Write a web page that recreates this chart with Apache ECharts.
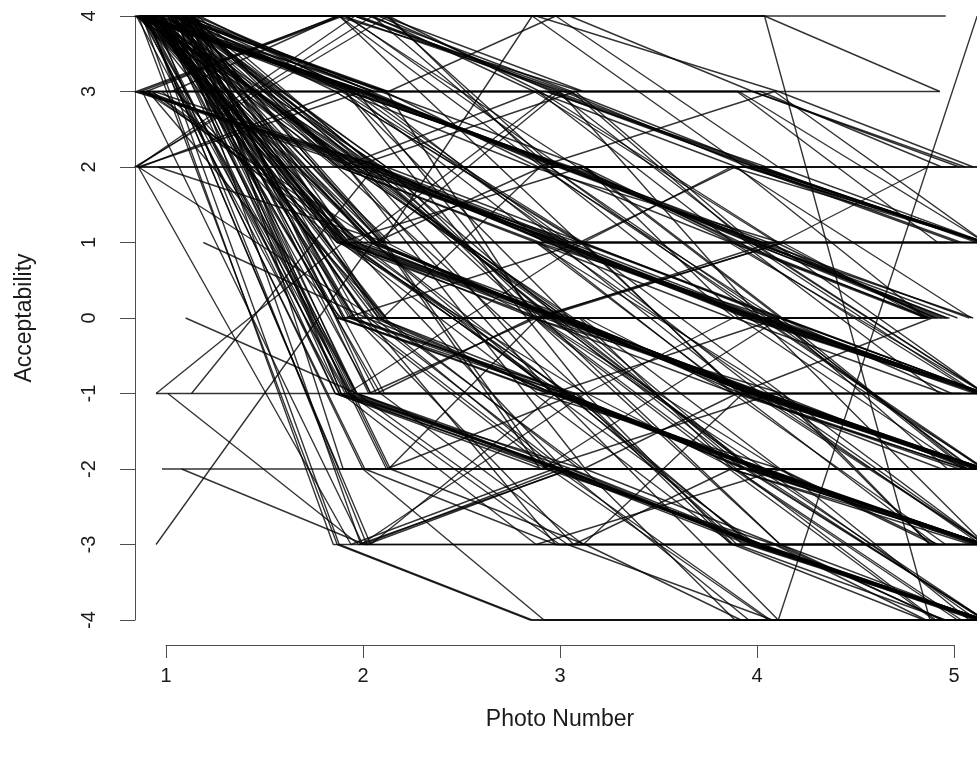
<!DOCTYPE html>
<html>
<head>
<meta charset="utf-8">
<script src="https://cdn.jsdelivr.net/npm/echarts@6/dist/echarts.min.js"></script>
<style>
  html, body { margin: 0; padding: 0; background: #fff; }
  #chart { width: 977px; height: 759px; }
</style>
</head>
<body>
<div id="chart"></div>
<script>
// photo positions and rating ticks
const photoTicks = [1, 2, 3, 4, 5];
const scoreTicks = [-4, -3, -2, -1, 0, 1, 2, 3, 4];

// one row per participant: acceptability for photos 1..5
const scores = [
  [4,4,4,4,4],[3,3,3,3,3],[2,2,2,2,2],[-1,-1,-1,-1,-1],[-2,-2,-2,-2,-2],
  [4,1,1,1,1],[4,0,0,0,0],[4,-3,-3,-3,-3],[4,-3,-4,-4,-4],[4,-3,-4,-4,-4],
  [4,3,2,1,1],[4,3,2,2,1],[4,3,2,1,1],[4,3,2,2,1],[4,3,2,1,0],
  [4,3,2,2,2],[4,3,3,2,1],[4,4,3,2,1],[3,3,2,2,1],[4,2,2,2,1],
  [4,2,1,0,-1],[4,2,0,0,-1],[4,1,0,0,-1],[4,2,1,0,-1],[4,3,1,0,-1],
  [4,1,1,0,-1],[4,2,0,-1,-1],[3,2,1,0,-1],[4,2,1,1,-1],[4,1,0,-1,-1],
  [4,3,2,0,-1],[4,2,1,0,-1],[4,2,0,-1,-2],[4,1,0,-1,-2],[4,2,1,-1,-2],
  [4,1,-1,-1,-2],[4,0,-1,-1,-2],[4,2,0,-1,-2],[4,3,1,-1,-2],[4,1,0,-2,-2],
  [3,1,0,-1,-2],[4,2,0,0,-2],[4,0,0,-1,-2],[4,1,0,-1,-2],[4,2,1,0,-2],
  [4,3,0,-1,-2],[4,1,-1,-2,-3],[4,0,-1,-2,-3],[4,2,0,-2,-3],[4,1,-1,-2,-3],
  [4,-1,-2,-2,-3],[4,1,0,-2,-3],[4,0,-2,-2,-3],[4,2,-1,-2,-3],[3,1,-1,-2,-3],
  [4,-1,-1,-2,-3],[4,1,-1,-3,-3],[4,0,-1,-2,-3],[4,2,0,-1,-3],[4,-1,-2,-3,-3],
  [2,0,-1,-2,-3],[4,-1,-2,-3,-4],[4,-1,-2,-3,-4],[4,-1,-2,-3,-4],[4,-1,-2,-3,-4],
  [4,-1,-2,-3,-4],[4,0,-2,-3,-4],[4,1,-1,-3,-4],[4,-1,-2,-4,-4],[4,-2,-3,-3,-4],
  [4,0,-1,-3,-4],[4,-1,-3,-3,-4],[4,-2,-2,-3,-4],[4,0,-2,-3,-4],[4,-2,-4,-4,-4],
  [4,-1,-3,-4,-4],[4,1,-2,-4,-4],[4,0,-2,-4,-4],[2,4,3,2,1],[2,3,2,1,0],
  [2,4,2,0,-1],[2,-3,-2,-2,-3],[3,4,3,2,1],[3,2,1,0,-1],[3,3,2,1,0],
  [3,4,4,3,2],[3,1,0,-1,-2],[3,2,0,-1,-2],[3,0,-1,-2,-3],[3,2,1,1,0],
  [4,4,3,2,1],[4,4,2,1,0],[4,4,3,1,1],[4,4,2,2,1],[4,4,3,3,2],
  [4,1,4,2,1],[4,1,3,1,-1],[4,1,3,0,-2],[4,4,4,4,3],[4,4,4,4,-4],
  [4,1,-1,-4,4],[4,3,3,3,2],[4,2,1,1,0],[3,2,1,1,0],[-1,1,0,-1,-2],
  [-1,-3,-2,-3,-3],[-1,2,1,0,-1],[-2,-3,-3,-3,-3],[-3,1,0,-1,-2],[0,-1,-1,-2,-2],
  [1,0,-1,-2,-3],[4,-3,-2,-3,-4],[4,-3,-1,-2,-3],[3,-3,-2,-2,-2],[4,3,3,2,2],
  [4,2,2,1,0],[4,3,2,1,-1],[4,2,1,-1,-3],[4,0,-1,-2,-4],[4,1,0,-2,-4],
  [4,-1,-1,-3,-4],[4,2,0,-2,-4],[4,1,-1,-2,-4],[4,0,-1,-1,-3],[4,1,0,-1,-3],
  [4,3,1,0,-2],[4,2,1,0,-3],[3,1,0,-2,-3],[4,-1,-2,-2,-4],[4,0,-3,-3,-4],
  [4,2,3,1,0],[4,1,2,0,-1],[4,0,1,-1,-2],[4,-1,0,-2,-3],[4,-2,-1,-3,-4],
  [4,3,1,2,0],[4,2,-1,0,-1],[4,1,-2,-1,-2],[4,0,-3,-2,-3],[4,-1,-3,-1,-2],
  [4,2,0,1,1],[4,1,-1,0,0],[4,3,0,1,-1],[4,2,2,0,-2],[4,3,1,1,-1],
  [4,1,1,-1,-3],[4,0,0,-2,-4],[4,-1,0,-1,-3],[4,2,-1,-1,-3],[4,1,-2,-3,-4],
  [4,3,-1,-2,-4],[4,2,0,-3,-4],[4,0,-1,-3,-3],[4,-2,-3,-4,-4],[4,-1,-3,-2,-4],
  [4,1,2,1,0],[4,3,2,3,1],[4,4,2,0,-1],[4,4,1,0,-2],[4,4,3,1,0],
  [4,4,2,1,-1],[4,3,4,2,1],[4,2,3,2,0],[4,0,2,0,-2],[4,-1,1,-1,-2],
  [4,-2,0,-2,-3],[4,-3,-1,-3,-4],[4,-1,-2,0,-1],[4,0,-2,-1,0],[4,1,0,1,0],
  [4,2,1,2,1],[4,3,2,1,2],[3,2,2,1,-1],[3,1,1,0,-2],[3,0,0,-1,-3],
  [3,3,1,0,-1],[3,2,0,-2,-4],[3,4,2,1,0],[2,3,1,0,-2],[2,1,0,-1,-1],
  [2,2,1,-1,-3],[2,4,3,1,1],[3,4,3,3,1],[4,4,4,3,2],[4,4,3,3,1],
  [4,3,3,1,0],[4,2,2,0,-1],[4,1,1,-1,-2],[4,0,0,-2,-3],[4,-1,-1,-3,-3],
  [4,-2,-2,-4,-4],[4,2,-2,-3,-4],[4,3,0,-2,-3],[4,1,-1,-2,-2],[4,2,1,-1,-1],
  [4,3,2,0,0],[4,0,-2,-2,-4],[4,1,0,-3,-4],[4,-1,-2,-2,-2],[4,2,1,0,0]
];

// horizontal jitter of each point, hundredths of a photo step
const jitter = [
  [-15,-6,8,2,-4],[-14,1,5,-3,-7],[-15,4,-2,5,1],[-5,3,-6,4,16],[-2,2,5,-4,16],
  [-10,-13,4,-2,16],[-8,12,-5,6,-15],[-12,-15,4,-6,16],[-14,-13,-15,5,16],[-9,-12,-14,-3,12],
  [-16,-2,0,3,0],[-14,-1,2,-4,2],[-12,1,-1,1,-3],[-10,0,3,-2,4],[-13,2,1,0,-6],
  [-15,-3,-2,4,14],[8,5,-6,-1,16],[-11,-4,4,2,15],[-13,-8,6,-5,16],[14,-10,-3,3,12],
  [-12,-5,1,0,16],[9,3,-4,-6,14],[-7,-8,2,3,16],[16,6,-2,-3,13],[-4,-2,5,4,16],
  [11,9,-7,-1,11],[-3,-6,3,-8,15],[-10,-1,-4,2,16],[4,8,6,-5,12],[-6,-11,-1,-4,16],
  [15,4,-5,7,14],[-13,-2,2,-2,16],[7,1,-3,-1,16],[-12,-4,4,2,14],[12,7,-2,-6,16],
  [-14,-9,5,0,11],[3,-12,-6,5,16],[-10,10,0,-3,13],[17,-5,3,2,16],[-15,5,-4,-7,15],
  [-9,-3,1,-2,16],[6,-7,7,6,10],[-2,2,-8,1,16],[13,-6,2,-4,12],[-13,4,-1,3,16],
  [5,-9,5,-1,14],[-12,-2,-3,0,16],[10,-7,3,2,13],[-4,6,-5,-2,16],[14,-10,1,4,15],
  [-8,-14,-2,-5,16],[2,3,6,-3,11],[-5,-4,-6,3,16],[9,0,2,-6,14],[-7,-8,-1,1,16],
  [15,4,0,-4,12],[-2,-5,4,-7,16],[6,8,-3,2,15],[-6,-3,5,0,16],[11,-11,1,-2,13],
  [-14,6,-4,5,16],[-11,-6,-2,0,14],[4,-3,0,2,16],[-13,-8,1,-1,15],[8,-4,-1,3,16],
  [-10,-9,2,1,13],[12,-2,-3,-4,16],[-7,5,3,-2,15],[1,-12,-5,6,16],[-12,1,-2,0,12],
  [9,-5,6,-3,16],[-3,-7,0,-5,14],[16,-10,-4,2,16],[-8,3,2,-1,11],[-11,0,-8,4,16],
  [-5,-3,4,8,15],[-13,-7,2,-4,16],[-9,6,-1,7,13],[-15,-4,-2,1,15],[-14,0,3,-3,-8],
  [-15,5,-5,2,16],[-14,-6,-3,4,16],[-13,-10,2,-4,14],[-12,3,-6,1,16],[-10,-7,4,6,-10],
  [-15,-12,5,-2,3],[-11,7,-2,-3,16],[-13,-4,1,5,14],[-9,-11,-5,0,16],[-15,6,3,-4,-3],
  [-6,8,-4,-1,16],[-12,-8,1,3,8],[-4,3,6,-5,14],[-9,12,-3,0,16],[-14,-2,0,2,-6],
  [-7,10,-14,-6,16],[-10,-3,-2,-3,16],[-5,7,0,2,15],[-12,-14,-6,4,-7],[-13,-11,-9,4,-12],
  [-10,5,-3,11,12],[-8,-5,2,-2,6],[-11,1,5,0,-4],[-13,8,-6,-1,2],[-5,-10,2,4,16],
  [1,-2,6,3,15],[13,6,-2,-5,16],[8,1,-5,-3,14],[-5,5,-1,2,16],[10,-3,4,-6,16],
  [19,2,-3,3,16],[-6,2,5,-1,16],[-10,4,-2,3,15],[-12,0,1,-4,16],[-3,6,-7,5,16],
  [-7,-3,6,2,-9],[-12,-6,4,-2,16],[-9,2,-4,6,16],[-5,-13,3,1,16],[-14,7,-1,-3,15],
  [-2,4,-4,0,16],[-11,-1,3,-6,16],[-8,-7,-2,4,12],[-13,8,5,-2,16],[-4,-10,-5,3,14],
  [-10,2,0,-4,16],[-15,-8,2,1,16],[-7,0,-3,-1,16],[-12,-3,6,-5,16],[-6,2,-2,2,14],
  [-3,-5,8,-2,10],[2,6,-9,5,15],[5,-9,11,-8,6],[8,3,-12,4,14],[-1,12,9,-10,-4],
  [6,-14,10,-11,9],[0,-8,-4,12,16],[3,10,-10,9,8],[7,-4,7,-13,16],[-2,9,12,-7,-6],
  [10,4,-13,14,16],[4,-12,13,-12,-2],[12,-3,-11,8,16],[1,9,13,-9,5],[9,-7,-8,-14,16],
  [-4,14,-12,11,-12],[11,-10,10,-12,2],[6,7,-14,13,16],[3,-13,12,-9,-9],[8,11,-7,9,-14],
  [-5,-9,14,-11,4],[5,12,-9,12,-6],[10,-6,8,-13,-11],[2,14,13,-8,-2],[7,-11,-12,13,8],
  [-6,-12,12,-10,-13],[4,11,-11,9,16],[11,13,-8,-11,-5],[0,-12,10,12,7],[13,5,-13,10,-12],
  [-7,-9,9,-12,11],[6,13,-2,11,16],[12,-11,-12,-10,-14],[-8,10,-10,10,-3],[9,-8,12,-9,3],
  [1,13,-11,11,-10],[5,-1,13,-12,-15],[-3,-14,-9,12,16],[12,9,12,-10,-11],[-9,-13,-10,13,-15],
  [7,12,12,-13,16],[-11,-10,-14,12,-13],[-16,11,9,-8,-7],[-2,-13,-11,9,9],[5,12,13,-12,-4],
  [0,-14,11,13,16],[-6,9,-12,-10,-9],[3,-12,-9,-13,-14],[-13,-11,12,10,6],[-4,12,-13,-11,16],
  [-14,-10,10,13,-12],[-16,13,-10,11,16],[-10,-13,11,-10,-8],[8,-13,-12,11,10],[-13,10,12,-9,16],
  [3,12,-11,-12,-12],[-8,-14,12,12,-1],[10,12,-12,-11,7],[-3,-13,11,12,-8],[7,11,-13,-12,3],
  [-10,-12,12,-11,-13],[13,-8,13,10,-5],[-12,12,-13,-13,9],[2,-11,-11,12,-11],[-14,-12,-10,-12,4],
  [11,9,13,13,-13],[-6,11,10,-14,-10],[9,-9,-13,12,14],[-15,-12,12,-12,-6],[6,-12,-12,-13,-14]
];

const chart = echarts.init(document.getElementById('chart'), null, { renderer: 'canvas' });

const textColor = '#1a1a1a';
const axisColor = '#4d4d4d';
const fontFamily = '"Liberation Sans", Arial, sans-serif';

const lines = scores.map((row, i) => ({
  type: 'line',
  xAxisIndex: 0,
  yAxisIndex: 0,
  data: row.map((v, j) => [photoTicks[j] + jitter[i][j] / 100, v]),
  symbol: 'none',
  clip: false,
  silent: true,
  animation: false,
  lineStyle: { color: '#000', width: 1.4, opacity: 0.8 },
}));

chart.setOption({
  animation: false,
  grid: [
    { left: 135, right: 0, top: 16, bottom: 139 },
    { left: 166, right: 23, top: 16, bottom: 114 },
  ],
  xAxis: [
    { gridIndex: 0, type: 'value', min: 0.843, max: 5.119, show: false },
    {
      gridIndex: 1,
      type: 'value',
      min: 1,
      max: 5,
      interval: 1,
      name: 'Photo Number',
      nameLocation: 'middle',
      nameGap: 63,
      nameTextStyle: { color: textColor, fontSize: 23, fontFamily },
      axisLine: { show: true, lineStyle: { color: axisColor, width: 1 } },
      axisTick: { show: true, length: 13, lineStyle: { color: axisColor } },
      axisLabel: { color: textColor, fontSize: 20, fontFamily, margin: 21 },
      splitLine: { show: false },
    },
  ],
  yAxis: [
    {
      gridIndex: 0,
      type: 'value',
      min: -4,
      max: 4,
      interval: 1,
      name: 'Acceptability',
      nameLocation: 'middle',
      nameGap: 99,
      nameRotate: 90,
      nameTextStyle: { color: textColor, fontSize: 23, fontFamily },
      axisLine: { show: true, lineStyle: { color: axisColor, width: 1 } },
      axisTick: { show: true, length: 15, lineStyle: { color: axisColor } },
      axisLabel: { color: textColor, fontSize: 20, fontFamily, rotate: 90, margin: 36 },
      splitLine: { show: false },
    },
    { gridIndex: 1, type: 'value', min: 0, max: 1, show: false },
  ],
  series: lines.concat([
    { type: 'scatter', xAxisIndex: 1, yAxisIndex: 1, data: [], silent: true },
  ]),
});
</script>
</body>
</html>
